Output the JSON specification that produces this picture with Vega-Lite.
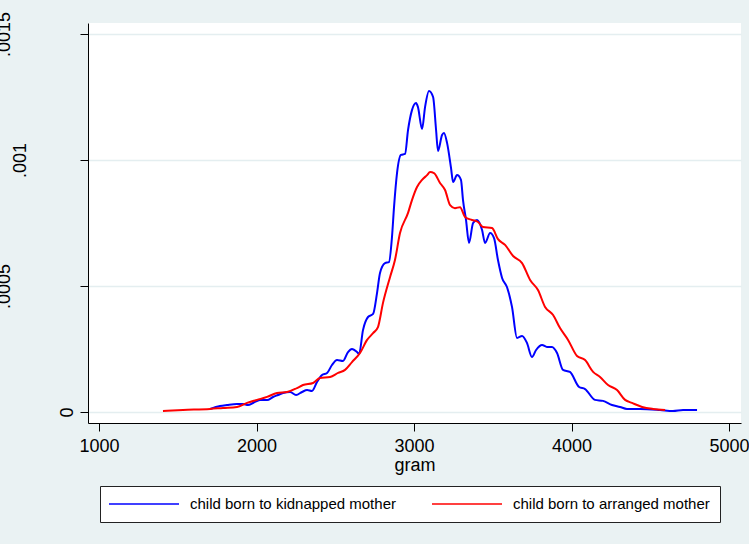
{
  "$schema": "https://vega.github.io/schema/vega-lite/v6.json",
  "autosize": {"type": "none"},
  "padding": {"left": 88, "top": 23, "right": 8, "bottom": 121},
  "width": 653,
  "height": 400,
  "background": "#eaf2f3",
  "config": {
    "font": "Liberation Sans",
    "view": {"fill": "white", "stroke": null},
    "axis": {"labelColor": "black", "titleColor": "black", "domainColor": "black", "tickColor": "black", "domainWidth": 1, "tickWidth": 1}
  },
  "data": {
    "values": [
      {"group": "child born to kidnapped mother", "gram": 1705, "density": 0.0000119},
      {"group": "child born to kidnapped mother", "gram": 1768, "density": 0.0000238},
      {"group": "child born to kidnapped mother", "gram": 1813, "density": 0.0000278},
      {"group": "child born to kidnapped mother", "gram": 1876, "density": 0.0000317},
      {"group": "child born to kidnapped mother", "gram": 1914, "density": 0.0000317},
      {"group": "child born to kidnapped mother", "gram": 1946, "density": 0.0000278},
      {"group": "child born to kidnapped mother", "gram": 1978, "density": 0.0000357},
      {"group": "child born to kidnapped mother", "gram": 2022, "density": 0.0000476},
      {"group": "child born to kidnapped mother", "gram": 2067, "density": 0.0000476},
      {"group": "child born to kidnapped mother", "gram": 2105, "density": 0.0000595},
      {"group": "child born to kidnapped mother", "gram": 2137, "density": 0.0000675},
      {"group": "child born to kidnapped mother", "gram": 2168, "density": 0.0000754},
      {"group": "child born to kidnapped mother", "gram": 2213, "density": 0.0000794},
      {"group": "child born to kidnapped mother", "gram": 2251, "density": 0.0000675},
      {"group": "child born to kidnapped mother", "gram": 2289, "density": 0.0000794},
      {"group": "child born to kidnapped mother", "gram": 2321, "density": 0.0000873},
      {"group": "child born to kidnapped mother", "gram": 2352, "density": 0.0000833},
      {"group": "child born to kidnapped mother", "gram": 2384, "density": 0.000119},
      {"group": "child born to kidnapped mother", "gram": 2416, "density": 0.0001468},
      {"group": "child born to kidnapped mother", "gram": 2448, "density": 0.0001548},
      {"group": "child born to kidnapped mother", "gram": 2479, "density": 0.0001865},
      {"group": "child born to kidnapped mother", "gram": 2511, "density": 0.0002063},
      {"group": "child born to kidnapped mother", "gram": 2549, "density": 0.0002024},
      {"group": "child born to kidnapped mother", "gram": 2581, "density": 0.000238},
      {"group": "child born to kidnapped mother", "gram": 2606, "density": 0.00025},
      {"group": "child born to kidnapped mother", "gram": 2638, "density": 0.000238},
      {"group": "child born to kidnapped mother", "gram": 2651, "density": 0.00023},
      {"group": "child born to kidnapped mother", "gram": 2676, "density": 0.000325},
      {"group": "child born to kidnapped mother", "gram": 2708, "density": 0.000377},
      {"group": "child born to kidnapped mother", "gram": 2740, "density": 0.000389},
      {"group": "child born to kidnapped mother", "gram": 2765, "density": 0.000472},
      {"group": "child born to kidnapped mother", "gram": 2784, "density": 0.000552},
      {"group": "child born to kidnapped mother", "gram": 2816, "density": 0.000591},
      {"group": "child born to kidnapped mother", "gram": 2841, "density": 0.000595},
      {"group": "child born to kidnapped mother", "gram": 2860, "density": 0.000694},
      {"group": "child born to kidnapped mother", "gram": 2873, "density": 0.000813},
      {"group": "child born to kidnapped mother", "gram": 2892, "density": 0.000948},
      {"group": "child born to kidnapped mother", "gram": 2917, "density": 0.00102},
      {"group": "child born to kidnapped mother", "gram": 2943, "density": 0.001024},
      {"group": "child born to kidnapped mother", "gram": 2962, "density": 0.001119},
      {"group": "child born to kidnapped mother", "gram": 2987, "density": 0.001198},
      {"group": "child born to kidnapped mother", "gram": 3013, "density": 0.001226},
      {"group": "child born to kidnapped mother", "gram": 3025, "density": 0.00121},
      {"group": "child born to kidnapped mother", "gram": 3051, "density": 0.001123},
      {"group": "child born to kidnapped mother", "gram": 3070, "density": 0.00121},
      {"group": "child born to kidnapped mother", "gram": 3095, "density": 0.001274},
      {"group": "child born to kidnapped mother", "gram": 3121, "density": 0.00125},
      {"group": "child born to kidnapped mother", "gram": 3140, "density": 0.001119},
      {"group": "child born to kidnapped mother", "gram": 3152, "density": 0.001036},
      {"group": "child born to kidnapped mother", "gram": 3178, "density": 0.001099},
      {"group": "child born to kidnapped mother", "gram": 3190, "density": 0.001107},
      {"group": "child born to kidnapped mother", "gram": 3210, "density": 0.001067},
      {"group": "child born to kidnapped mother", "gram": 3235, "density": 0.000968},
      {"group": "child born to kidnapped mother", "gram": 3248, "density": 0.000913},
      {"group": "child born to kidnapped mother", "gram": 3273, "density": 0.00094},
      {"group": "child born to kidnapped mother", "gram": 3298, "density": 0.000921},
      {"group": "child born to kidnapped mother", "gram": 3311, "density": 0.000841},
      {"group": "child born to kidnapped mother", "gram": 3330, "density": 0.000762},
      {"group": "child born to kidnapped mother", "gram": 3349, "density": 0.000671},
      {"group": "child born to kidnapped mother", "gram": 3375, "density": 0.00075},
      {"group": "child born to kidnapped mother", "gram": 3400, "density": 0.000762},
      {"group": "child born to kidnapped mother", "gram": 3432, "density": 0.000722},
      {"group": "child born to kidnapped mother", "gram": 3451, "density": 0.000671},
      {"group": "child born to kidnapped mother", "gram": 3483, "density": 0.00071},
      {"group": "child born to kidnapped mother", "gram": 3508, "density": 0.00069},
      {"group": "child born to kidnapped mother", "gram": 3533, "density": 0.000603},
      {"group": "child born to kidnapped mother", "gram": 3559, "density": 0.000532},
      {"group": "child born to kidnapped mother", "gram": 3590, "density": 0.000496},
      {"group": "child born to kidnapped mother", "gram": 3622, "density": 0.000417},
      {"group": "child born to kidnapped mother", "gram": 3654, "density": 0.000294},
      {"group": "child born to kidnapped mother", "gram": 3686, "density": 0.000302},
      {"group": "child born to kidnapped mother", "gram": 3717, "density": 0.000274},
      {"group": "child born to kidnapped mother", "gram": 3749, "density": 0.000218},
      {"group": "child born to kidnapped mother", "gram": 3775, "density": 0.000246},
      {"group": "child born to kidnapped mother", "gram": 3813, "density": 0.000266},
      {"group": "child born to kidnapped mother", "gram": 3844, "density": 0.000258},
      {"group": "child born to kidnapped mother", "gram": 3876, "density": 0.000258},
      {"group": "child born to kidnapped mother", "gram": 3908, "density": 0.000234},
      {"group": "child born to kidnapped mother", "gram": 3946, "density": 0.000167},
      {"group": "child born to kidnapped mother", "gram": 3990, "density": 0.000159},
      {"group": "child born to kidnapped mother", "gram": 4048, "density": 0.000099},
      {"group": "child born to kidnapped mother", "gram": 4086, "density": 0.000091},
      {"group": "child born to kidnapped mother", "gram": 4149, "density": 0.000048},
      {"group": "child born to kidnapped mother", "gram": 4200, "density": 0.000044},
      {"group": "child born to kidnapped mother", "gram": 4257, "density": 0.000028},
      {"group": "child born to kidnapped mother", "gram": 4308, "density": 0.00002},
      {"group": "child born to kidnapped mother", "gram": 4352, "density": 0.000012},
      {"group": "child born to kidnapped mother", "gram": 4435, "density": 0.000012},
      {"group": "child born to kidnapped mother", "gram": 4562, "density": 0.000008},
      {"group": "child born to kidnapped mother", "gram": 4644, "density": 0.000004},
      {"group": "child born to kidnapped mother", "gram": 4708, "density": 0.000008},
      {"group": "child born to kidnapped mother", "gram": 4797, "density": 0.000008},
      {"group": "child born to arranged mother", "gram": 1406, "density": 0.000004},
      {"group": "child born to arranged mother", "gram": 1533, "density": 0.000008},
      {"group": "child born to arranged mother", "gram": 1705, "density": 0.000012},
      {"group": "child born to arranged mother", "gram": 1787, "density": 0.000016},
      {"group": "child born to arranged mother", "gram": 1876, "density": 0.00002},
      {"group": "child born to arranged mother", "gram": 1940, "density": 0.000036},
      {"group": "child born to arranged mother", "gram": 2003, "density": 0.000048},
      {"group": "child born to arranged mother", "gram": 2067, "density": 0.00006},
      {"group": "child born to arranged mother", "gram": 2130, "density": 0.000075},
      {"group": "child born to arranged mother", "gram": 2194, "density": 0.000079},
      {"group": "child born to arranged mother", "gram": 2257, "density": 0.000095},
      {"group": "child born to arranged mother", "gram": 2295, "density": 0.000107},
      {"group": "child born to arranged mother", "gram": 2359, "density": 0.000115},
      {"group": "child born to arranged mother", "gram": 2403, "density": 0.000135},
      {"group": "child born to arranged mother", "gram": 2467, "density": 0.000139},
      {"group": "child born to arranged mother", "gram": 2518, "density": 0.000155},
      {"group": "child born to arranged mother", "gram": 2562, "density": 0.000167},
      {"group": "child born to arranged mother", "gram": 2606, "density": 0.000198},
      {"group": "child born to arranged mother", "gram": 2657, "density": 0.000234},
      {"group": "child born to arranged mother", "gram": 2702, "density": 0.000286},
      {"group": "child born to arranged mother", "gram": 2740, "density": 0.000313},
      {"group": "child born to arranged mother", "gram": 2771, "density": 0.000337},
      {"group": "child born to arranged mother", "gram": 2803, "density": 0.000433},
      {"group": "child born to arranged mother", "gram": 2848, "density": 0.000536},
      {"group": "child born to arranged mother", "gram": 2879, "density": 0.000603},
      {"group": "child born to arranged mother", "gram": 2911, "density": 0.00071},
      {"group": "child born to arranged mother", "gram": 2962, "density": 0.00079},
      {"group": "child born to arranged mother", "gram": 2987, "density": 0.000841},
      {"group": "child born to arranged mother", "gram": 3019, "density": 0.000893},
      {"group": "child born to arranged mother", "gram": 3051, "density": 0.000921},
      {"group": "child born to arranged mother", "gram": 3083, "density": 0.00094},
      {"group": "child born to arranged mother", "gram": 3102, "density": 0.000952},
      {"group": "child born to arranged mother", "gram": 3127, "density": 0.000948},
      {"group": "child born to arranged mother", "gram": 3165, "density": 0.000909},
      {"group": "child born to arranged mother", "gram": 3197, "density": 0.000881},
      {"group": "child born to arranged mother", "gram": 3229, "density": 0.000821},
      {"group": "child born to arranged mother", "gram": 3260, "density": 0.000809},
      {"group": "child born to arranged mother", "gram": 3292, "density": 0.000813},
      {"group": "child born to arranged mother", "gram": 3324, "density": 0.000774},
      {"group": "child born to arranged mother", "gram": 3368, "density": 0.000762},
      {"group": "child born to arranged mother", "gram": 3406, "density": 0.000754},
      {"group": "child born to arranged mother", "gram": 3438, "density": 0.000734},
      {"group": "child born to arranged mother", "gram": 3495, "density": 0.00073},
      {"group": "child born to arranged mother", "gram": 3533, "density": 0.000686},
      {"group": "child born to arranged mother", "gram": 3578, "density": 0.000663},
      {"group": "child born to arranged mother", "gram": 3629, "density": 0.000619},
      {"group": "child born to arranged mother", "gram": 3686, "density": 0.000591},
      {"group": "child born to arranged mother", "gram": 3737, "density": 0.000524},
      {"group": "child born to arranged mother", "gram": 3787, "density": 0.000484},
      {"group": "child born to arranged mother", "gram": 3832, "density": 0.000417},
      {"group": "child born to arranged mother", "gram": 3883, "density": 0.000385},
      {"group": "child born to arranged mother", "gram": 3927, "density": 0.000333},
      {"group": "child born to arranged mother", "gram": 3978, "density": 0.000286},
      {"group": "child born to arranged mother", "gram": 4035, "density": 0.000222},
      {"group": "child born to arranged mother", "gram": 4086, "density": 0.000206},
      {"group": "child born to arranged mother", "gram": 4137, "density": 0.000159},
      {"group": "child born to arranged mother", "gram": 4181, "density": 0.000139},
      {"group": "child born to arranged mother", "gram": 4232, "density": 0.000107},
      {"group": "child born to arranged mother", "gram": 4289, "density": 0.000087},
      {"group": "child born to arranged mother", "gram": 4340, "density": 0.000048},
      {"group": "child born to arranged mother", "gram": 4384, "density": 0.000036},
      {"group": "child born to arranged mother", "gram": 4448, "density": 0.00002},
      {"group": "child born to arranged mother", "gram": 4517, "density": 0.000012},
      {"group": "child born to arranged mother", "gram": 4594, "density": 0.000008}
    ]
  },
  "mark": {"type": "line", "strokeWidth": 2, "interpolate": "monotone"},
  "encoding": {
    "x": {
      "field": "gram", "type": "quantitative",
      "scale": {"domain": [930, 5076], "nice": false, "zero": false},
      "axis": {
        "title": "gram", "titleFontSize": 18, "titleFontWeight": "normal", "titlePadding": 1,
        "values": [1000, 2000, 3000, 4000, 5000], "format": "d", "grid": false,
        "labelFontSize": 18, "labelPadding": 6, "tickSize": 8, "labelFlush": false, "labelOverlap": false
      }
    },
    "y": {
      "field": "density", "type": "quantitative",
      "scale": {"domain": [-0.0000437, 0.0015437], "nice": false, "zero": false},
      "axis": {
        "title": null,
        "values": [0, 0.0005, 0.001, 0.0015],
        "grid": true, "gridColor": "#e4eef0", "gridWidth": 1.5,
        "tickSize": 8, "labelFontSize": 18,
        "labelAngle": 270, "labelAlign": "center", "labelBaseline": "bottom",
        "labelPadding": {"condition": [{"test": "datum.value == 0", "value": 4}, {"test": "datum.value == 0.001", "value": 51}], "value": 67},
        "labelFlush": false, "labelOverlap": false,
        "labelExpr": "datum.value == 0 ? '0' : substring(format(datum.value, '.4~f'), 1)"
      }
    },
    "color": {
      "field": "group", "type": "nominal",
      "scale": {"domain": ["child born to kidnapped mother", "child born to arranged mother"], "range": ["#0000ff", "#ff0000"]},
      "legend": {
        "title": null, "orient": "none", "legendX": 12, "legendY": 463,
        "direction": "horizontal", "columns": 2,
        "symbolType": "M-5,0L5,0", "symbolSize": 196, "symbolStrokeWidth": 1.5, "symbolOffset": 26,
        "labelFontSize": 15, "labelColor": "black", "labelLimit": 400, "labelOffset": 38,
        "columnPadding": 33, "padding": 10,
        "fillColor": "white", "strokeColor": "#222222"
      }
    }
  }
}
